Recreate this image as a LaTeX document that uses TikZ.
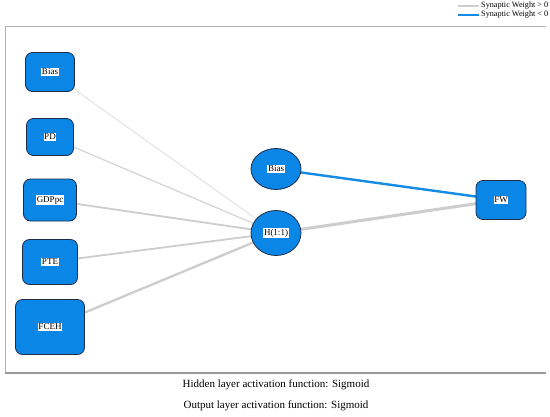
\documentclass[tikz,border=0pt]{standalone}
\usepackage{fontspec}
\setmainfont{Liberation Serif}
\usetikzlibrary{shapes.geometric,backgrounds}
\definecolor{nodeblue}{RGB}{10,134,230}
\definecolor{nodeedge}{RGB}{30,45,70}
\definecolor{posw}{RGB}{205,205,205}
\definecolor{negw}{RGB}{20,140,230}
\begin{document}
\begin{tikzpicture}[x=1pt,y=-1pt,
  lab/.style={fill=white,inner sep=0.7pt,font=\fontsize{9}{10}\selectfont},
  inbox/.style={draw=nodeedge,fill=nodeblue,rounded corners=7pt,line width=0.8pt,inner sep=0pt},
  hid/.style={draw=nodeedge,fill=nodeblue,ellipse,line width=0.8pt,inner sep=0pt},
  poswt/.style={draw=posw},
  negwt/.style={draw=negw},
  framel/.style={draw=gray!60,line width=0.8pt},
  legtext/.style={anchor=west,inner sep=0pt,font=\fontsize{8.2}{9}\selectfont},
  captext/.style={inner sep=0pt,font=\fontsize{11}{12}\selectfont}]
\useasboundingbox (0,0) rectangle (550,416);
% frame
\draw[framel] (5,373) -- (5,26) -- (546,26);
\draw[draw=gray!80,line width=1.2pt] (5,373) -- (546,373);
% legend
\coordinate (lg1a) at (458,6); \coordinate (lg1b) at (479,6);
\coordinate (lg2a) at (458,15); \coordinate (lg2b) at (479,15);
\draw[poswt,line width=1.6pt] (lg1a) -- (lg1b);
\draw[negwt,line width=1.6pt] (lg2a) -- (lg2b);
\node[legtext] (lt1) at (481,6) {Synaptic Weight > 0};
\node[legtext] (lt2) at (481,15) {Synaptic Weight < 0};
% nodes
\node[inbox,minimum width=49pt,minimum height=39pt] (b1) at (50,72) {};
\node[inbox,minimum width=47pt,minimum height=37pt] (pd) at (50,137) {};
\node[inbox,minimum width=53pt,minimum height=42pt] (gdp) at (50,200) {};
\node[inbox,minimum width=55pt,minimum height=45pt] (pte) at (50,262) {};
\node[inbox,minimum width=69pt,minimum height=55pt] (fceh) at (50,327) {};
\node[hid,minimum width=50pt,minimum height=41pt] (b2) at (276,169) {};
\node[hid,minimum width=50pt,minimum height=45pt] (h) at (276,233) {};
\node[inbox,minimum width=50pt,minimum height=39pt] (fw) at (501,200) {};
% labels
\node[lab] (lb1) at (b1) {Bias};
\node[lab] (lpd) at (pd) {PD};
\node[lab] (lgdp) at (gdp) {GDPpc};
\node[lab] (lpte) at (pte) {PTE};
\node[lab] (lfceh) at (fceh) {FCEH};
\node[lab] (lb2) at (b2) {Bias};
\node[lab] (lh) at (h) {H(1:1)};
\node[lab] (lfw) at (fw) {FW};
% connectors
\begin{scope}[on background layer]
\draw[poswt,draw=black!12,line width=0.9pt] (b1.center) -- (h.center);
\draw[poswt,draw=black!16,line width=1.3pt] (pd.center) -- (h.center);
\draw[poswt,line width=1.8pt] (gdp.center) -- (h.center);
\draw[poswt,line width=1.8pt] (pte.center) -- (h.center);
\draw[poswt,line width=2.3pt] (fceh.center) -- (h.center);
\draw[poswt,line width=3pt] (h.center) -- (fw.center);
\draw[negwt,line width=2.4pt] (b2.center) -- (fw.center);
\end{scope}
% captions
\node[captext] (cap1) at (276,385) {Hidden layer activation function: Sigmoid};
\node[captext] (cap2) at (276,406) {Output layer activation function: Sigmoid};
\end{tikzpicture}
\end{document}
